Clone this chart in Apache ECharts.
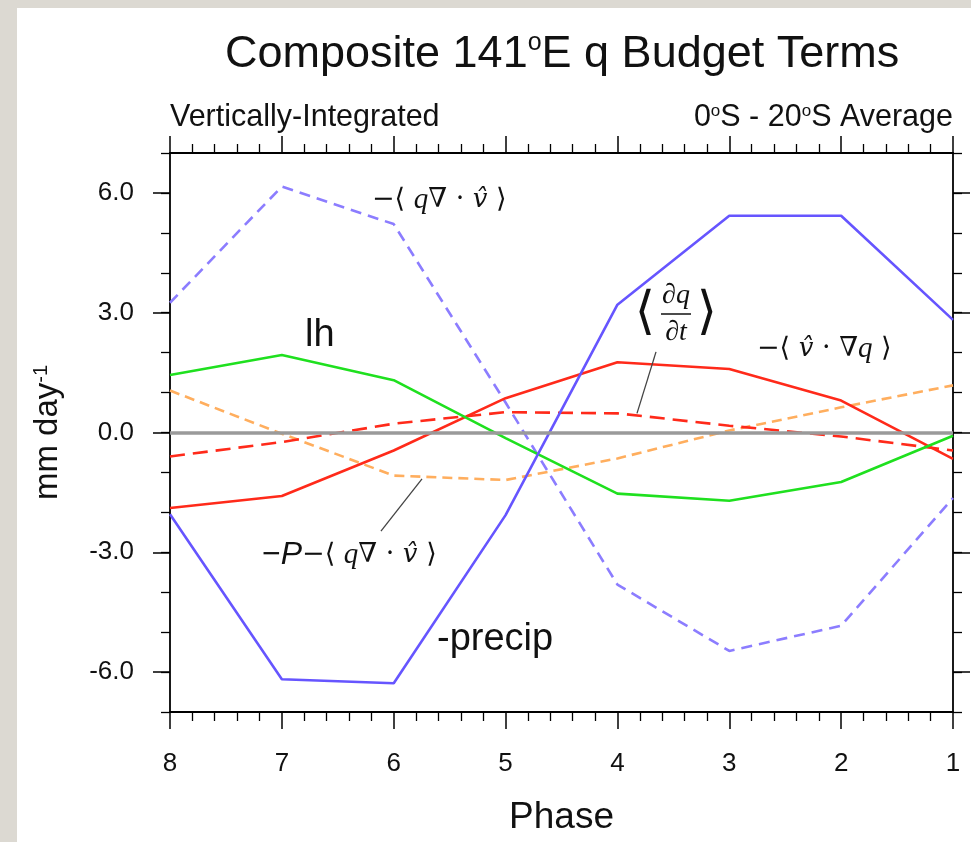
<!DOCTYPE html>
<html>
<head>
<meta charset="utf-8">
<script src="https://cdn.jsdelivr.net/npm/echarts@6/dist/echarts.min.js"></script>
<style>
html,body{margin:0;padding:0;background:#dcd9d2;}
#chart{width:971px;height:842px;}
</style>
</head>
<body>
<div id="chart"></div>
<script>
// ---- data ----
const phases = [8, 7, 6, 5, 4, 3, 2, 1];
const negPrecip      = [-2.05, -6.18, -6.28, -2.07, 3.20, 5.43, 5.43, 2.82];   // -precip (blue solid)
const negQDivV       = [3.25, 6.16, 5.22, 0.75, -3.81, -5.47, -4.84, -1.64];   // -<q div v> (blue dashed)
const latentHeat     = [1.44, 1.94, 1.31, -0.14, -1.53, -1.71, -1.24, -0.08];  // lh (green)
const dqdt           = [-0.60, -0.24, 0.22, 0.51, 0.48, 0.17, -0.10, -0.45];   // <dq/dt> (red dashed)
const negVGradQ      = [-1.89, -1.59, -0.45, 0.86, 1.76, 1.59, 0.80, -0.66];   // -<v . grad q> (red solid)
const negPminusQDivV = [1.05, -0.03, -1.08, -1.19, -0.65, 0.05, 0.63, 1.18];   // -P-<q div v> (orange dashed)
const yMajorTicks = [-6, -3, 0, 3, 6];
const xTicks = [8, 7, 6, 5, 4, 3, 2, 1];

const SANS = "'Liberation Sans', Arial, Helvetica, sans-serif";
const SERIF = "'Liberation Serif', 'DejaVu Serif', serif";
const SYM = "'DejaVu Serif', 'DejaVu Sans', serif";
const VSERIF = "'DejaVu Serif', serif";

function pts(vals) { return phases.map((p, i) => [p, vals[i]]); }

const chart = echarts.init(document.getElementById('chart'));

const axisLineStyle = { color: '#000', width: 1.8 };
function xAxisDef(pos, showLabels) {
  return {
    type: 'value', position: pos, min: 1, max: 8, interval: 1, inverse: true,
    axisLine: { show: true, onZero: false, lineStyle: axisLineStyle },
    axisTick: { show: true, inside: false, length: 17, lineStyle: { color: '#000', width: 1.5 } },
    minorTick: { show: true, splitNumber: 5, length: 9, lineStyle: { color: '#000', width: 1.3 } },
    splitLine: { show: false }, minorSplitLine: { show: false },
    axisLabel: showLabels ? { show: true, fontSize: 26, color: '#111', margin: 39, fontFamily: SANS,
      formatter: v => String(v) } : { show: false },
    name: showLabels ? 'Phase' : '',
    nameLocation: 'middle', nameGap: 87,
    nameTextStyle: { fontSize: 37, color: '#111', fontFamily: SANS }
  };
}
function yAxisMinor(pos, showLabels) {
  return {
    type: 'value', position: pos, min: -7, max: 7, interval: 1,
    axisLine: { show: true, onZero: false, lineStyle: axisLineStyle },
    axisTick: { show: true, inside: false, length: 9, lineStyle: { color: '#000', width: 1.3 } },
    splitLine: { show: false },
    axisLabel: showLabels ? { show: true, customValues: yMajorTicks, fontSize: 26, color: '#111',
      margin: 36, fontFamily: SANS, formatter: v => v.toFixed(1) } : { show: false },
    name: showLabels ? '{a|mm day}{s|-1}' : '',
    nameLocation: 'middle', nameGap: 105, nameRotate: 90,
    nameTextStyle: { color: '#111', fontFamily: SANS,
      rich: { a: { fontSize: 33, fontFamily: SANS, color: '#111' },
              s: { fontSize: 20, fontFamily: SANS, color: '#111', verticalAlign: 'top', padding: [0, 0, 14, 0] } } }
  };
}
function yAxisMajor(pos) {
  return {
    type: 'value', position: pos, min: -7, max: 7, interval: 1,
    axisLine: { show: false },
    axisTick: { show: true, inside: false, length: 17, customValues: yMajorTicks, lineStyle: { color: '#000', width: 1.5 } },
    splitLine: { show: false },
    axisLabel: { show: false }
  };
}

function lineSeries(name, vals, color, dashed, extra) {
  return Object.assign({
    name, type: 'line', xAxisIndex: 0, yAxisIndex: 0, data: pts(vals),
    symbol: 'none', smooth: false, z: 3,
    lineStyle: { color, width: 2.6, type: dashed ? dashed : 'solid' },
    emphasis: { disabled: true }, silent: true
  }, extra || {});
}

const mathRich = {
  m: { fontSize: 27, fontFamily: SYM, fill: '#111' },
  i: { fontSize: 29, fontStyle: 'italic', fontFamily: SERIF, fill: '#111' },
  v: { fontSize: 26, fontStyle: 'italic', fontFamily: VSERIF, fill: '#111' },
  s: { fontSize: 32, fontFamily: SANS, fill: '#111' },
  p: { fontSize: 32, fontStyle: 'italic', fontFamily: SANS, fill: '#111' }
};

const option = {
  backgroundColor: '#dcd9d2',
  animation: false,
  grid: { left: 170, right: 18, top: 153, bottom: 130, containLabel: false },
  title: {
    text: 'Composite 141{o|o}E q Budget Terms',
    left: 220, top: 26,
    textStyle: { fontSize: 45, fontWeight: 'normal', color: '#111', fontFamily: SANS,
      rich: { o: { fontSize: 25, verticalAlign: 'top', padding: [0, 0, 22, 0], fontFamily: SANS, color: '#111' } } }
  },
  xAxis: [xAxisDef('bottom', true), xAxisDef('top', false)],
  yAxis: [yAxisMinor('left', true), yAxisMinor('right', false), yAxisMajor('left'), yAxisMajor('right')],
  graphic: [
    { type: 'rect', z: -100, shape: { x: 17, y: 8, width: 954, height: 834 }, style: { fill: '#ffffff' }, silent: true },
    { type: 'text', x: 170, y: 118, style: { text: 'Vertically-Integrated', font: '30.5px ' + SANS, fill: '#111', align: 'left', verticalAlign: 'middle' } },
    { type: 'text', x: 953, y: 118, style: { text: '0{o|o}S - 20{o|o}S Average', font: '30.5px ' + SANS, fill: '#111', align: 'right', verticalAlign: 'middle',
        rich: { o: { fontSize: 17, fontFamily: SANS, verticalAlign: 'top', padding: [0, 0, 14, 0], fill: '#111' } } } },
    // curve labels
    { type: 'text', x: 372, y: 200, style: { text: '{m|−⟨ }{i|q}{m|∇ · }{v|v\u0302}{m| ⟩}', fill: '#111', align: 'left', verticalAlign: 'middle', rich: mathRich } },
    { type: 'text', x: 305, y: 336, style: { text: 'lh', font: '38px ' + SANS, fill: '#111', align: 'left', verticalAlign: 'middle' } },
    { type: 'text', x: 437, y: 640, style: { text: '-precip', font: '38px ' + SANS, fill: '#111', align: 'left', verticalAlign: 'middle' } },
    { type: 'text', x: 757, y: 349, style: { text: '{m|−⟨ }{v|v\u0302}{m| · ∇}{i|q}{m| ⟩}', fill: '#111', align: 'left', verticalAlign: 'middle', rich: mathRich } },
    { type: 'text', x: 262, y: 555, style: { text: '{s|−}{p|P}{m|−⟨ }{i|q}{m|∇ · }{v|v\u0302}{m| ⟩}', fill: '#111', align: 'left', verticalAlign: 'middle', rich: mathRich } },
    // <dq/dt> fraction
    { type: 'text', x: 645, y: 314, style: { text: '⟨', font: '52px ' + SYM, fill: '#111', align: 'center', verticalAlign: 'middle' } },
    { type: 'text', x: 676, y: 296, style: { text: '∂q', font: 'italic 28px ' + SERIF, fill: '#111', align: 'center', verticalAlign: 'middle' } },
    { type: 'line', shape: { x1: 661, y1: 314, x2: 691, y2: 314 }, style: { stroke: '#111', lineWidth: 1.5 } },
    { type: 'text', x: 676, y: 333, style: { text: '∂t', font: 'italic 28px ' + SERIF, fill: '#111', align: 'center', verticalAlign: 'middle' } },
    { type: 'text', x: 707, y: 314, style: { text: '⟩', font: '52px ' + SYM, fill: '#111', align: 'center', verticalAlign: 'middle' } }
  ],
  series: [
    { name: 'zero', type: 'line', data: [], z: 1, silent: true,
      markLine: { silent: true, symbol: ['none', 'none'], label: { show: false },
        lineStyle: { color: '#9a9a9a', width: 3.5, type: 'solid' }, data: [{ yAxis: 0 }] } },
    lineSeries('-<q div v>', negQDivV, '#8c7dff', [11, 7]),
    lineSeries('-P-<q div v>', negPminusQDivV, '#ffae5e', [10, 6], {
      markLine: { silent: true, symbol: ['none', 'none'], label: { show: false },
        lineStyle: { color: '#444', width: 1.3, type: 'solid' },
        data: [[{ coord: [6.114, -2.47] }, { coord: [5.747, -1.16] }]] } }),
    lineSeries('<dq/dt>', dqdt, '#ff2a1a', [15, 8], {
      markLine: { silent: true, symbol: ['none', 'none'], label: { show: false },
        lineStyle: { color: '#444', width: 1.3, type: 'solid' },
        data: [[{ coord: [3.655, 2.02] }, { coord: [3.825, 0.48] }]] } }),
    lineSeries('-<v grad q>', negVGradQ, '#ff2a1a', null),
    lineSeries('lh', latentHeat, '#1fe01f', null),
    lineSeries('-precip', negPrecip, '#6655ff', null)
  ]
};
chart.setOption(option);
</script>
</body>
</html>
